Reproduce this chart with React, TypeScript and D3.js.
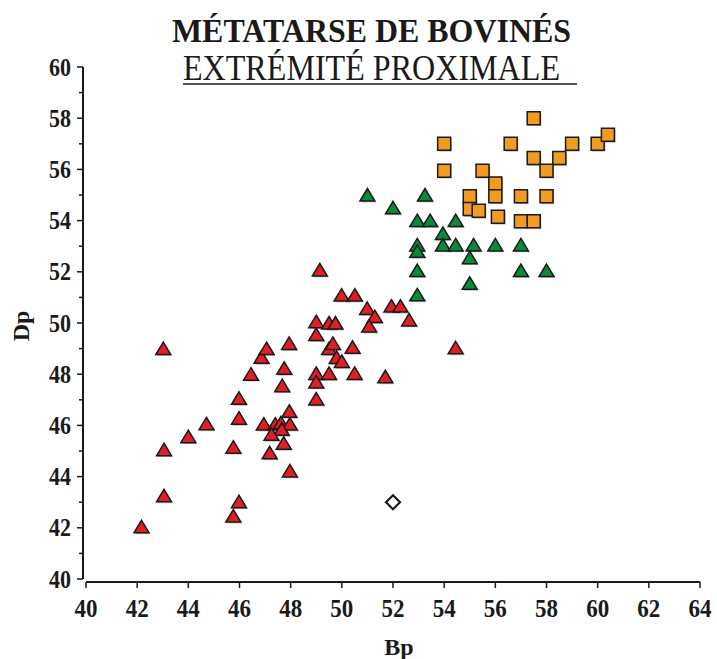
import React, { useEffect, useRef } from 'react';
import * as d3 from 'd3';

const redBp = [42.17, 43.02, 43.05, 43.05, 44.0, 44.71, 45.76, 45.76, 45.98, 45.98, 45.98, 46.45, 46.86, 47.06,
    46.95, 47.4, 47.62, 47.97, 47.65, 47.25, 47.18, 47.73, 47.67, 47.75, 47.94, 47.95, 47.97,
    49.0, 49.0, 49.0, 49.0, 49.0, 49.14, 49.5, 49.75, 49.5, 49.65, 49.8, 50.0, 49.5, 49.99, 50.51,
    50.42, 50.5, 50.99, 51.29, 51.07, 51.7, 51.94, 52.29, 52.63, 54.45];
const redDp = [42.04, 49.0, 45.05, 43.25, 45.56, 46.06, 45.15, 42.46, 47.06, 46.28, 43.02, 48.0, 48.66, 49.0,
    46.05, 46.05, 46.1, 46.05, 45.85, 45.65, 44.93, 45.3, 47.55, 48.23, 49.2, 46.55, 44.22,
    50.05, 49.55, 48.03, 47.7, 47.03, 52.07, 50.0, 50.0, 49.0, 49.2, 48.65, 48.5, 48.03, 51.09, 51.09,
    49.05, 48.03, 50.57, 50.25, 49.88, 47.9, 50.66, 50.66, 50.12, 49.03];

const greenBp = [51.0, 53.25, 52.0, 52.95, 53.45, 54.45, 53.95, 52.95, 52.95, 53.95, 54.45, 55.15, 56.0, 57.0,
    55.0, 52.95, 57.0, 58.0, 55.0, 52.95];
const greenDp = [55.0, 55.0, 54.5, 54.0, 54.0, 54.0, 53.5, 53.05, 52.8, 53.05, 53.05, 53.05, 53.05, 53.05,
    52.55, 52.05, 52.05, 52.05, 51.55, 51.1];

const orangeBp = [54.0, 54.0, 55.0, 55.0, 55.35, 55.5, 56.0, 56.0, 56.1, 56.6, 57.0, 57.0, 57.5, 57.5, 57.5,
    58.0, 58.0, 58.5, 59.0, 60.0, 60.4];
const orangeDp = [57.0, 55.95, 54.95, 54.45, 54.38, 55.95, 55.45, 54.95, 54.15, 57.0, 54.95, 53.97, 53.97, 58.0,
    56.45, 55.95, 54.95, 56.45, 57.0, 57.0, 57.35];

const diamondBp = [52.0];
const diamondDp = [43.0];

const xTicks = [40, 42, 44, 46, 48, 50, 52, 54, 56, 58, 60, 62, 64];
const yTicks = [40, 42, 44, 46, 48, 50, 52, 54, 56, 58, 60];
const yMinorTicks = [41, 43, 45, 47, 49, 51, 53, 55, 57, 59];

const FONT = '"Liberation Serif", "Times New Roman", serif';

const App: React.FC = () => {
    const svgRef = useRef<SVGSVGElement>(null);

    useEffect(() => {
        if (!svgRef.current) return;
        const svg = d3.select(svgRef.current);
        svg.selectAll('*').remove();

        const x = d3.scaleLinear().domain([40, 64]).range([86, 700]);
        const y = d3.scaleLinear().domain([40, 60]).range([579, 67]);

        // titles (the original type is a narrow, tall Times)
        svg.append('text')
            .attr('x', 172).attr('y', 42)
            .attr('font-family', FONT).attr('font-weight', 'bold').attr('font-size', 34)
            .attr('textLength', 399).attr('lengthAdjust', 'spacingAndGlyphs')
            .attr('fill', '#1a1a1a')
            .text('MÉTATARSE DE BOVINÉS');
        svg.append('text')
            .attr('x', 183).attr('y', 80)
            .attr('font-family', FONT).attr('font-size', 35)
            .attr('textLength', 377).attr('lengthAdjust', 'spacingAndGlyphs')
            .attr('fill', '#1a1a1a')
            .text('EXTRÉMITÉ PROXIMALE');
        svg.append('line')
            .attr('x1', 183).attr('x2', 577).attr('y1', 84).attr('y2', 84)
            .attr('stroke', '#1a1a1a').attr('stroke-width', 1.5);

        // y axis (offset a few px left of the origin)
        const yAxis = svg.append('g').attr('transform', 'translate(83,0)');
        yAxis.append('line')
            .attr('x1', 0).attr('x2', 0).attr('y1', y(60)).attr('y2', y(40))
            .attr('stroke', '#1a1a1a').attr('stroke-width', 2);
        yAxis.selectAll('line.major').data(yTicks).enter().append('line')
            .attr('class', 'major')
            .attr('x1', -6).attr('x2', 0).attr('y1', d => y(d)).attr('y2', d => y(d))
            .attr('stroke', '#1a1a1a').attr('stroke-width', 1.5);
        yAxis.selectAll('line.minor').data(yMinorTicks).enter().append('line')
            .attr('class', 'minor')
            .attr('x1', -4).attr('x2', 0).attr('y1', d => y(d)).attr('y2', d => y(d))
            .attr('stroke', '#1a1a1a').attr('stroke-width', 1.5);
        yAxis.selectAll('text').data(yTicks).enter().append('text')
            .attr('x', -12).attr('y', d => y(d)).attr('dy', '0.34em')
            .attr('text-anchor', 'end')
            .attr('font-family', FONT).attr('font-weight', 'bold').attr('font-size', 25)
            .attr('textLength', 22).attr('lengthAdjust', 'spacingAndGlyphs')
            .attr('fill', '#1a1a1a')
            .text(d => String(d));

        // x axis (offset a few px below the origin)
        const xAxis = svg.append('g').attr('transform', 'translate(0,582)');
        xAxis.append('line')
            .attr('x1', x(40)).attr('x2', x(64)).attr('y1', 0).attr('y2', 0)
            .attr('stroke', '#1a1a1a').attr('stroke-width', 2);
        xAxis.selectAll('line.major').data(xTicks).enter().append('line')
            .attr('class', 'major')
            .attr('x1', d => x(d)).attr('x2', d => x(d)).attr('y1', 0).attr('y2', 6)
            .attr('stroke', '#1a1a1a').attr('stroke-width', 1.5);
        xAxis.selectAll('text').data(xTicks).enter().append('text')
            .attr('x', d => x(d)).attr('y', 35)
            .attr('text-anchor', 'middle')
            .attr('font-family', FONT).attr('font-weight', 'bold').attr('font-size', 25)
            .attr('textLength', 23).attr('lengthAdjust', 'spacingAndGlyphs')
            .attr('fill', '#1a1a1a')
            .text(d => String(d));

        // axis titles
        svg.append('text')
            .attr('x', 399).attr('y', 655)
            .attr('text-anchor', 'middle')
            .attr('font-family', FONT).attr('font-weight', 'bold').attr('font-size', 24)
            .attr('fill', '#1a1a1a')
            .text('Bp');
        svg.append('text')
            .attr('transform', 'translate(29,326) rotate(-90)')
            .attr('text-anchor', 'middle')
            .attr('font-family', FONT).attr('font-weight', 'bold').attr('font-size', 24)
            .attr('fill', '#1a1a1a')
            .text('Dp');

        const tri = 'M0,-6.5L7.5,6L-7.5,6Z';
        const sq = 'M-6.5,-6.5H6.5V6.5H-6.5Z';
        const dia = 'M0,-7L7,0L0,7L-7,0Z';

        const drawSeries = (bp: number[], dp: number[], path: string, fill: string) => {
            const pts = bp.map((b, i) => [b, dp[i]] as [number, number]);
            const g = svg.append('g');
            g.selectAll('path.shadow').data(pts).enter().append('path')
                .attr('class', 'shadow')
                .attr('d', path)
                .attr('transform', d => `translate(${x(d[0]) + 1.2},${y(d[1]) + 1.4})`)
                .attr('fill', '#8c8c8c').attr('opacity', 0.55);
            g.selectAll('path.mark').data(pts).enter().append('path')
                .attr('class', 'mark')
                .attr('d', path)
                .attr('transform', d => `translate(${x(d[0])},${y(d[1])})`)
                .attr('fill', fill)
                .attr('stroke', '#1a1a1a').attr('stroke-width', 1.5)
                .attr('stroke-linejoin', 'miter');
        };

        drawSeries(redBp, redDp, tri, '#e31d25');
        drawSeries(greenBp, greenDp, tri, '#078a3b');
        drawSeries(orangeBp, orangeDp, sq, '#f39a20');

        svg.selectAll('path.diamond')
            .data(diamondBp.map((b, i) => [b, diamondDp[i]]))
            .enter().append('path')
            .attr('class', 'diamond')
            .attr('d', dia)
            .attr('transform', d => `translate(${x(d[0])},${y(d[1])})`)
            .attr('fill', '#ffffff')
            .attr('stroke', '#1a1a1a').attr('stroke-width', 2.2);
    }, []);

    return (
        <svg
            ref={svgRef}
            width={717}
            height={659}
            style={{ position: 'absolute', left: 0, top: 0, background: '#ffffff' }}
        />
    );
};

export default App;
